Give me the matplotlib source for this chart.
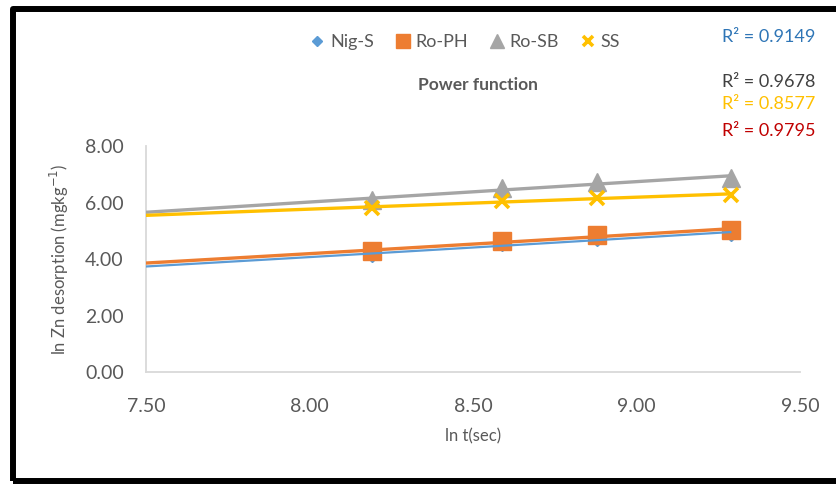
import numpy as np
import matplotlib
matplotlib.use('Agg')
import matplotlib.pyplot as plt
from matplotlib.patches import Rectangle

plt.rcParams['font.family'] = ['Lato', 'DejaVu Sans']

# ln t (sec) at each sampling time
x_vals = [8.19, 8.59, 8.88, 9.29]

# ln Zn desorption for each soil
nig_s = [4.15, 4.52, 4.72, 4.90]
ro_ph = [4.28, 4.62, 4.85, 5.02]
ro_sb = [6.09, 6.51, 6.73, 6.87]
ss = [5.82, 6.05, 6.16, 6.28]

series_names = ['Nig-S', 'Ro-PH', 'Ro-SB', 'SS']
series_colors = ['#5B9BD5', '#ED7D31', '#A5A5A5', '#FFC000']
r2_labels = ['R² = 0.9149', 'R² = 0.9678', 'R² = 0.8577', 'R² = 0.9795']
r2_colors = ['#2E75B6', '#404040', '#FFC000', '#C00000']

x_ticks = [7.5, 8.0, 8.5, 9.0, 9.5]
y_ticks = [0, 2, 4, 6, 8]

fig = plt.figure(figsize=(8.36, 4.84), dpi=100)
ax = fig.add_axes([0.1746, 0.2314, 0.7824, 0.4669])

gray_txt = '#595959'

# markers
ax.plot(x_vals, nig_s, 'D', color=series_colors[0], markersize=7, zorder=2, label='Nig-S')
ax.plot(x_vals, ro_ph, 's', color=series_colors[1], markersize=13, zorder=2, label='Ro-PH')
ax.plot(x_vals, ro_sb, '^', color=series_colors[2], markersize=13, zorder=2, label='Ro-SB')
ax.plot(x_vals, ss, 'x', color=series_colors[3], markersize=10, mew=2.6, zorder=2, label='SS')

# power trendlines (y = a * x^b), extended back to 7.5
xs = np.linspace(7.5, x_vals[-1], 50)
widths = [1.6, 2.4, 2.4, 2.4]
for ys, col, lw in zip([nig_s, ro_ph, ro_sb, ss], series_colors, widths):
    b, ln_a = np.polyfit(np.log(x_vals), np.log(ys), 1)
    ax.plot(xs, np.exp(ln_a) * xs ** b, color=col, lw=lw, zorder=3, solid_capstyle='butt')

ax.set_xlim(7.5, 9.5)
ax.set_ylim(0, 8)
ax.set_xticks(x_ticks)
ax.set_xticklabels(['%.2f' % v for v in x_ticks])
ax.set_yticks(y_ticks)
ax.set_yticklabels(['%.2f' % v for v in y_ticks])
ax.tick_params(axis='both', length=0, labelsize=14, labelcolor=gray_txt)
ax.tick_params(axis='x', pad=19)
ax.tick_params(axis='y', pad=16)
for s in ['top', 'right']:
    ax.spines[s].set_visible(False)
for s in ['left', 'bottom']:
    ax.spines[s].set_color('#D9D9D9')
    ax.spines[s].set_linewidth(1.3)

ax.set_xlabel('ln t(sec)', fontsize=12, color=gray_txt, labelpad=9)
ax.set_ylabel('ln Zn desorption (mgkg$^{-1}$)', fontsize=12, color=gray_txt, labelpad=10)

fig.text(478 / 836, 1 - 85 / 484, 'Power function', fontsize=12.5, fontweight='bold',
         color=gray_txt, ha='center', va='center')

handles, labels = ax.get_legend_handles_labels()
leg = fig.legend(handles, labels, loc='center', bbox_to_anchor=(465 / 836, 1 - 42 / 484),
                 ncol=4, frameon=False, fontsize=13, handlelength=0.8, handletextpad=0.3,
                 columnspacing=1.2, markerscale=0.75)
for t in leg.get_texts():
    t.set_color(gray_txt)

r2_y = [37, 82, 104, 131]
for lab, col, yy in zip(r2_labels, r2_colors, r2_y):
    fig.text(722 / 836, 1 - yy / 484, lab, fontsize=13, color=col, ha='left', va='center')

# black frame around the chart
frame = Rectangle((13 / 836, 1 - 481 / 484), 1.05, (481 - 8.5) / 484, transform=fig.transFigure,
                  fill=False, edgecolor='black', lw=4.3, joinstyle='round', clip_on=False)
fig.patches.append(frame)

fig.savefig('out.png', dpi=100)
